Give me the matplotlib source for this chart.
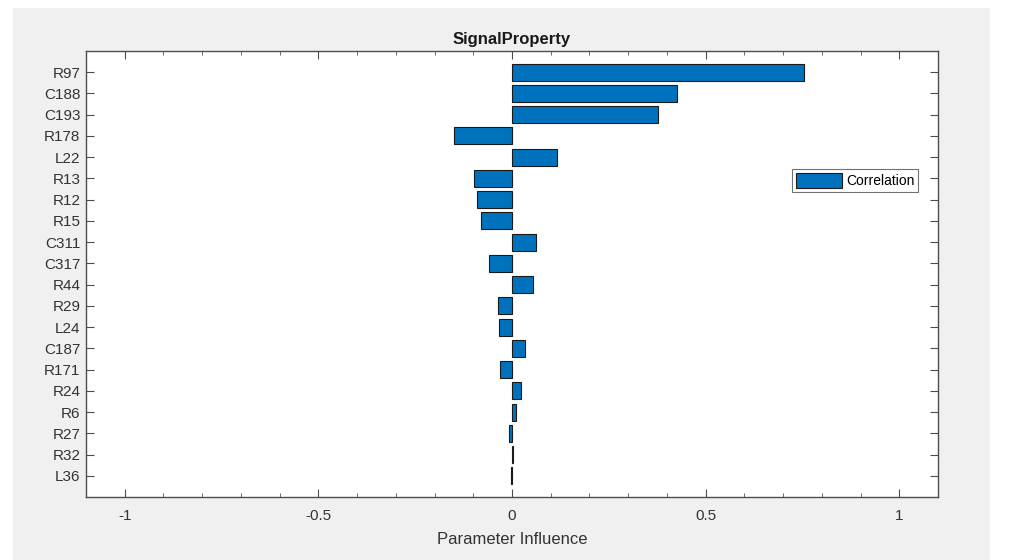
import matplotlib
matplotlib.use("Agg")
import matplotlib.pyplot as plt
from matplotlib.patches import Rectangle
from matplotlib.ticker import MultipleLocator

plt.rcParams['font.family'] = ['Liberation Sans', 'DejaVu Sans']

# parameters, top to bottom as shown in the chart
params = ['R97', 'C188', 'C193', 'R178', 'L22', 'R13', 'R12', 'R15', 'C311', 'C317',
          'R44', 'R29', 'L24', 'C187', 'R171', 'R24', 'R6', 'R27', 'R32', 'L36']
correlation = [0.755, 0.427, 0.378, -0.150, 0.117, -0.099, -0.090, -0.080, 0.063, -0.060,
               0.055, -0.037, -0.034, 0.034, -0.030, 0.024, 0.011, -0.009, 0.002, -0.002]

xticks = [-1, -0.5, 0, 0.5, 1]
xticklabels = ['-1', '-0.5', '0', '0.5', '1']

W, H = 1009, 560
fig = plt.figure(figsize=(W / 100, H / 100), dpi=100)
fig.patch.set_facecolor('white')
# grey matlab figure window
fig.patches.append(Rectangle((13 / W, 0), (990 - 13) / W, (H - 8) / H,
                             transform=fig.transFigure, facecolor='#f0f0f0',
                             edgecolor='none', zorder=-5))

ax = fig.add_axes([86 / W, 1 - 497 / H, (938 - 86) / W, (497 - 51) / H])
ax.set_zorder(2)
ax.set_facecolor('white')

ypos = list(range(len(params), 0, -1))
ax.barh(ypos, correlation, height=0.8, color='#0072BD', edgecolor='#1a1a1a',
        linewidth=0.8, label='Correlation', zorder=2)

ax.set_xlim(-1.1, 1.1)
ax.set_ylim(0, len(params) + 1)
ax.set_yticks(ypos)
ax.set_yticklabels(params)
ax.set_xticks(xticks)
ax.set_xticklabels(xticklabels)
ax.xaxis.set_minor_locator(MultipleLocator(0.1))

edge = '#4d4d4d'
for s in ax.spines.values():
    s.set_color(edge)
    s.set_linewidth(1.0)
ax.tick_params(axis='both', which='both', direction='in', colors=edge,
               labelcolor='#333333', labelsize=11, top=True, right=True)
ax.tick_params(axis='x', which='major', length=6, pad=9)
ax.tick_params(axis='x', which='minor', length=3)
ax.tick_params(axis='y', which='major', length=6, pad=4)

ax.set_title('SignalProperty', fontsize=12, fontweight='bold', color='#1a1a1a', pad=5)
ax.set_xlabel('Parameter Influence', fontsize=12, color='#333333', labelpad=6)

leg = ax.legend(loc='center right', bbox_to_anchor=(0.977, 0.709), fontsize=10,
                frameon=True, fancybox=False, handlelength=3.3, handleheight=1.2,
                borderpad=0.3, handletextpad=0.3, borderaxespad=0)
leg.get_frame().set_edgecolor('#4d4d4d')
leg.get_frame().set_linewidth(0.8)

fig.savefig('out.png', dpi=100, facecolor=fig.get_facecolor())
